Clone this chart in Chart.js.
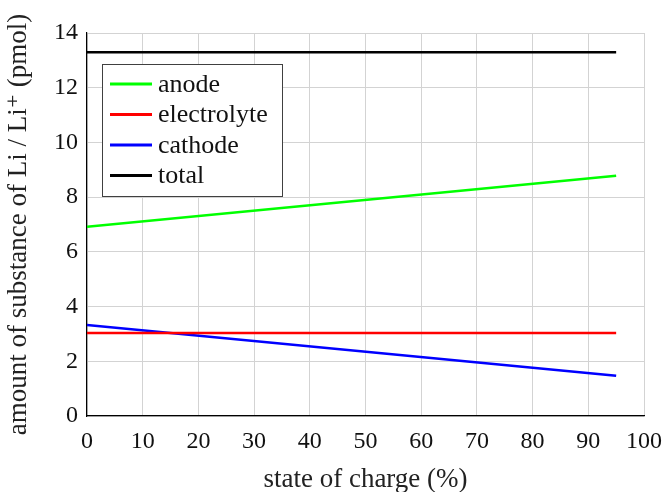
<!DOCTYPE html>
<html><head><meta charset="utf-8">
<script src="https://cdn.jsdelivr.net/npm/chart.js@4/dist/chart.umd.min.js"></script>
<style>html,body{margin:0;padding:0;background:#fff}#w{width:666px;height:492px}</style>
</head><body><div id="w"><canvas id="c" width="666" height="492"></canvas></div>
<script>
const socX = [0, 95];
const anode = [6.92, 8.78];
const electrolyte = [3.03, 3.03];
const cathode = [3.33, 1.47];
const total = [13.30, 13.30];
const seriesNames = ['anode', 'electrolyte', 'cathode', 'total'];
const seriesColors = ['#00ff00', '#ff0000', '#0000ff', '#000000'];
const xTicks = [0,10,20,30,40,50,60,70,80,90,100];
const yTicks = [0,2,4,6,8,10,12,14];
const FONT = "'Liberation Serif', 'DejaVu Serif', serif";

const mk = (vals) => socX.map((x,i)=>({x, y: vals[i]}));
const allVals = [anode, electrolyte, cathode, total];

const legendPlugin = {
  id: 'boxLegend',
  afterDatasetsDraw(chart) {
    const ctx = chart.ctx;
    const x0 = 102.5, y0 = 64.5, w = 180, h = 132;
    ctx.save();
    ctx.fillStyle = '#fff';
    ctx.fillRect(x0, y0, w, h);
    ctx.strokeStyle = '#404040';
    ctx.lineWidth = 1;
    ctx.strokeRect(x0, y0, w, h);
    ctx.font = "26px " + FONT;
    ctx.textBaseline = 'middle';
    chart.data.datasets.forEach((ds, i) => {
      const yy = 84 + i * 30.5;
      ctx.strokeStyle = ds.borderColor;
      ctx.lineWidth = 3;
      ctx.beginPath(); ctx.moveTo(110, yy); ctx.lineTo(152, yy); ctx.stroke();
      ctx.fillStyle = '#111';
      ctx.fillText(ds.label, 158, yy + 1);
    });
    ctx.restore();
  }
};

new Chart(document.getElementById('c'), {
  type: 'line',
  data: {
    datasets: seriesNames.map((n,i)=>({
      label: n, data: mk(allVals[i]), borderColor: seriesColors[i],
      backgroundColor: seriesColors[i], borderWidth: 2.5, pointRadius: 0, tension: 0, fill: false
    }))
  },
  options: {
    responsive: false, animation: false,
    layout: { padding: { top: 33, right: 22, left: 0, bottom: 0 } },
    plugins: { legend: { display: false }, tooltip: { enabled: false } },
    scales: {
      x: {
        type: 'linear', min: 0, max: 100,
        afterBuildTicks: s => { s.ticks = xTicks.map(v=>({value:v})); },
        afterFit: s => { s.height = 76; s.paddingRight = 0; s.paddingLeft = 0; },
        grid: { color: '#d3d3d3', lineWidth: 1, drawTicks: false },
        border: { color: '#000', width: 1.2 },
        ticks: { color: '#111', font: { family: FONT, size: 24 }, padding: 11, maxRotation: 0 },
        title: { display: true, text: 'state of charge (%)', color: '#222', font: { family: FONT, size: 27 }, padding: { top: 4, bottom: -4 } }
      },
      y: {
        type: 'linear', min: 0, max: 14,
        afterBuildTicks: s => { s.ticks = yTicks.map(v=>({value:v})); },
        afterFit: s => { s.width = 87; s.paddingTop = 0; s.paddingBottom = 0; },
        grid: { color: '#d3d3d3', lineWidth: 1, drawTicks: false },
        border: { color: '#000', width: 1.2 },
        ticks: { color: '#111', font: { family: FONT, size: 24 }, padding: 9 },
        title: { display: true, text: 'amount of substance of Li / Li⁺ (pmol)', color: '#222', font: { family: FONT, size: 27 }, padding: { bottom: 0, top: 3 } }
      }
    }
  },
  plugins: [legendPlugin]
});
</script></body></html>
